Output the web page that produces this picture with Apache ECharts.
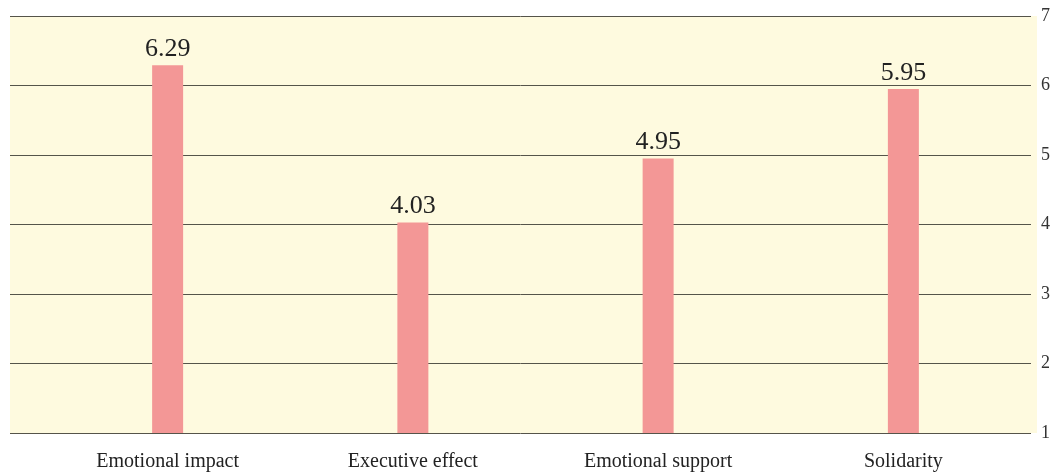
<!DOCTYPE html>
<html>
<head>
<meta charset="utf-8">
<script src="https://cdn.jsdelivr.net/npm/echarts@6/dist/echarts.min.js"></script>
<style>
  html, body { margin: 0; padding: 0; background: #fff; }
  #chart { width: 1053px; height: 475px; }
</style>
</head>
<body>
<div id="chart"></div>
<script>
const categories = ['Emotional impact', 'Executive effect', 'Emotional support', 'Solidarity']
const scores = [6.29, 4.03, 4.95, 5.95]
const yTicks = [1, 2, 3, 4, 5, 6, 7]

const font = 'Liberation Serif, DejaVu Serif, serif'
const chart = echarts.init(document.getElementById('chart'))

const option = {
  animation: false,
  // background band of the plot
  graphic: [{
    type: 'rect',
    z: -100,
    shape: { x: 10, y: 16, width: 1027, height: 417 },
    style: { fill: '#FEFADF' },
    silent: true
  }],
  grid: [
    { left: 10, right: 21, top: 16, bottom: 42 },
    { left: 45, right: 27, top: 16, bottom: 42 }
  ],
  xAxis: [
    { gridIndex: 0, type: 'value', show: false, min: 0, max: 1 },
    {
      gridIndex: 1,
      type: 'category',
      data: categories,
      axisLine: { show: false },
      axisTick: { show: false },
      axisLabel: { color: '#222', fontFamily: font, fontSize: 20, margin: 19 }
    }
  ],
  yAxis: [
    {
      gridIndex: 0,
      type: 'value',
      position: 'right',
      min: yTicks[0],
      max: yTicks[yTicks.length - 1],
      interval: 1,
      axisLine: { show: false },
      axisTick: { show: false },
      axisLabel: { color: '#333', fontFamily: font, fontSize: 18, margin: 10 },
      splitLine: { show: true, lineStyle: { color: '#55544a', width: 1 } }
    },
    {
      gridIndex: 1,
      type: 'value',
      show: false,
      min: yTicks[0],
      max: yTicks[yTicks.length - 1],
      interval: 1
    }
  ],
  series: [{
    type: 'bar',
    xAxisIndex: 1,
    yAxisIndex: 1,
    data: scores,
    barWidth: 31,
    itemStyle: { color: '#F39796' },
    label: {
      show: true,
      position: 'top',
      distance: 3,
      color: '#222',
      fontFamily: font,
      fontSize: 26,
      formatter: p => p.value.toFixed(2)
    }
  }]
}

chart.setOption(option)
</script>
</body>
</html>
